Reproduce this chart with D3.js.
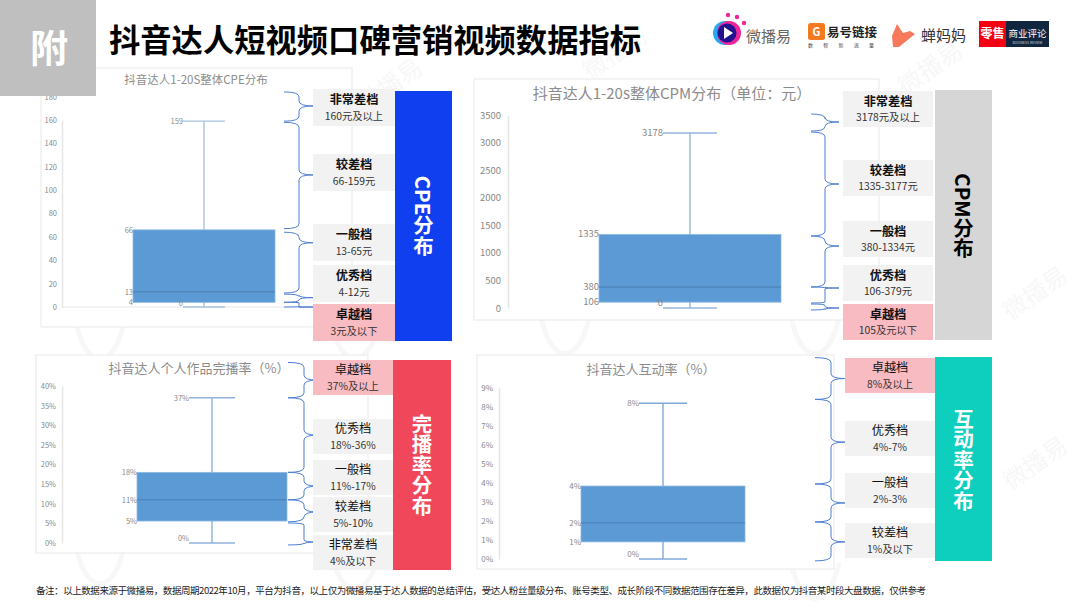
<!DOCTYPE html>
<html lang="zh-CN">
<head>
    <meta charset="UTF-8">
    <title>抖音达人短视频口碑营销视频数据指标</title>
    <script src="https://d3js.org/d3.v7.min.js"></script>
    <style>
        html, body { margin: 0; padding: 0; background: #fff; }
        svg { display: block; }
        text { font-family: "Noto Sans CJK SC", "Noto Sans", sans-serif; }
        .tick line { display: none; }
        .tick text { fill: #8a8a8a; }
    </style>
</head>
<body>
    <div id="container"></div>

    <script>
        // main title + footnote
        const mainTitle = '抖音达人短视频口碑营销视频数据指标';
        const footnote = '备注:以上数据来源于微播易,数据周期2022年10月,平台为抖音,以上仅为微播易基于达人数据的总结评估,受达人粉丝量级分布、账号类型、成长阶段不同数据范围存在差异,此数据仅为抖音某时段大盘数据,仅供参考';

        // box stats are [min, q1, median, q3, max]
        const cpeStats = [0, 4, 13, 66, 159];
        const cpeLabels = ['0', '4', '13', '66', '159'];
        const cpeTicks = [0, 20, 40, 60, 80, 100, 120, 140, 160, 180];
        const cpeTiers = ['非常差档', '较差档', '一般档', '优秀档', '卓越档'];
        const cpeRanges = ['160元及以上', '66-159元', '13-65元', '4-12元', '3元及以下'];
        const cpeBraces = [[184, 159, 172], [158, 67, 113], [64, 12, 55], [11, 4, 8], [4, 0, 0]];

        const cpmStats = [0, 106, 380, 1335, 3178];
        const cpmLabels = ['0', '106', '380', '1335', '3178'];
        const cpmTicks = [0, 500, 1000, 1500, 2000, 2500, 3000, 3500];
        const cpmTiers = ['非常差档', '较差档', '一般档', '优秀档', '卓越档'];
        const cpmRanges = ['3178元及以上', '1335-3177元', '380-1334元', '106-379元', '105及元以下'];
        const cpmBraces = [[3523, 3214, 3378], [3196, 1307, 2252], [1307, 381, 1126], [381, 91, 363], [73, -36, 0]];

        const finishStats = [0, 5.6, 11, 18, 37];
        const finishLabels = ['0%', '5%', '11%', '18%', '37%'];
        const finishTicks = [0, 5, 10, 15, 20, 25, 30, 35, 40];
        const finishTiers = ['卓越档', '优秀档', '一般档', '较差档', '非常差档'];
        const finishRanges = ['37%及以上', '18%-36%', '11%-17%', '5%-10%', '4%及以下'];
        const finishBraces = [[46, 37, 41.5], [37, 18, 27.5], [18, 11, 14.5], [11, 5.4, 7.9], [5.1, -0.5, 0.25]];

        const interactStats = [0, 0.9, 1.9, 3.84, 8.2];
        const interactLabels = ['0%', '1%', '2%', '4%', '8%'];
        const interactTicks = [0, 1, 2, 3, 4, 5, 6, 7, 8, 9];
        const interactTiers = ['卓越档', '优秀档', '一般档', '较差档'];
        const interactRanges = ['8%及以上', '4%-7%', '2%-3%', '1%及以下'];
        const interactBraces = [[10.6, 8.4, 9.5], [8.4, 3.95, 6.15], [3.95, 1.95, 2.95], [1.95, -0.1, 0.9]];

        const svg = d3.select('#container').append('svg')
            .attr('width', 1080)
            .attr('height', 608);

        // faint watermark behind everything
        const marks = [[395, 92], [620, 60], [935, 75], [1040, 300], [1040, 470]];
        svg.selectAll('.wm').data(marks).enter().append('text')
            .attr('transform', d => `translate(${d[0]},${d[1]}) rotate(-35)`)
            .attr('text-anchor', 'middle')
            .attr('font-size', 24)
            .attr('fill', '#f7f7f7')
            .text('微播易');
        const rings = [[100, 335], [355, 335], [565, 330], [815, 330], [100, 560], [355, 565], [815, 575]];
        svg.selectAll('.wm-ring').data(rings).enter().append('path')
            .attr('d', d => `M${d[0] - 24} ${d[1] - 12} Q${d[0] - 16} ${d[1] + 22} ${d[0]} ${d[1] + 24} Q${d[0] + 16} ${d[1] + 22} ${d[0] + 24} ${d[1] - 12}`)
            .attr('fill', 'none')
            .attr('stroke', '#f7f7f7')
            .attr('stroke-width', 5);

        function drawPanel(p) {
            const g = svg.append('g');

            //frame
            g.append('rect')
                .attr('x', p.frame[0]).attr('y', p.frame[1])
                .attr('width', p.frame[2] - p.frame[0]).attr('height', p.frame[3] - p.frame[1])
                .attr('fill', '#fff').attr('stroke', '#e9e9e9');

            g.append('text')
                .attr('x', p.titleX).attr('y', p.titleY)
                .attr('text-anchor', 'middle')
                .attr('font-size', p.titleSize)
                .attr('fill', '#8c8c8c')
                .text(p.title);

            //scales
            const y = d3.scaleLinear()
                .domain([0, p.domainMax])
                .range([p.y0, p.yMax]);
            const x = d3.scaleBand()
                .domain([p.category])
                .range(p.boxX);
            const mid = x(p.category) + x.bandwidth() / 2;
            const [lo, q1, med, q3, hi] = p.stats;

            //axis
            const axis = g.append('g')
                .attr('transform', `translate(${p.axisX},0)`)
                .call(d3.axisLeft(y).tickValues(p.ticks).tickSize(0).tickPadding(p.tickPad).tickFormat(p.tickFormat));
            axis.select('.domain').attr('stroke', '#e6e6e6').attr('stroke-width', 1.5);
            axis.selectAll('.tick text').attr('font-size', p.tickSize);

            if (p.baseline) {
                g.append('line')
                    .attr('x1', p.axisX).attr('x2', p.baseline)
                    .attr('y1', y(0)).attr('y2', y(0))
                    .attr('stroke', '#e6e6e6');
            }

            //whisker + caps
            g.append('line').attr('x1', mid).attr('x2', mid).attr('y1', y(hi)).attr('y2', y(lo))
                .attr('stroke', p.whisker).attr('stroke-width', 1.4);
            [hi, lo].forEach(v => {
                g.append('line')
                    .attr('x1', mid - p.capHalf).attr('x2', mid + p.capHalf)
                    .attr('y1', y(v)).attr('y2', y(v))
                    .attr('stroke', p.whisker).attr('stroke-width', 1.4);
            });

            //box
            g.append('rect')
                .attr('x', x(p.category)).attr('y', y(q3))
                .attr('width', x.bandwidth()).attr('height', y(q1) - y(q3))
                .attr('fill', '#5b9ad5').attr('stroke', '#8fb8e0').attr('stroke-width', 0.8);
            g.append('line')
                .attr('x1', x(p.category)).attr('x2', x(p.category) + x.bandwidth())
                .attr('y1', y(med)).attr('y2', y(med))
                .attr('stroke', '#4a7fb3').attr('stroke-width', 1);

            //value labels
            const labelX = [mid - p.capHalf, x(p.category), x(p.category), x(p.category), mid - p.capHalf];
            const labelDy = [p.zeroDy, 3, 3, 3, 3];
            p.stats.forEach((v, i) => {
                g.append('text')
                    .attr('x', labelX[i])
                    .attr('y', y(v) + labelDy[i])
                    .attr('text-anchor', 'end')
                    .attr('font-size', p.labelSize)
                    .attr('fill', '#8a8a8a')
                    .text(p.labels[i]);
            });

            //braces
            p.braces.forEach(b => {
                const y1 = y(b[0]), y2 = y(b[1]);
                const tip = Math.min(Math.max(y(b[2]), y1), y2);
                const r = Math.min(5, (tip - y1) / 2 + 0.5, (y2 - tip) / 2 + 0.5);
                const path = d3.path();
                path.moveTo(p.brace[0], y1);
                path.quadraticCurveTo(p.brace[1], y1, p.brace[1], y1 + r);
                path.lineTo(p.brace[1], tip - r);
                path.quadraticCurveTo(p.brace[1], tip, p.brace[2], tip);
                path.quadraticCurveTo(p.brace[1], tip, p.brace[1], tip + r);
                path.lineTo(p.brace[1], y2 - r);
                path.quadraticCurveTo(p.brace[1], y2, p.brace[0], y2);
                g.append('path')
                    .attr('d', path.toString())
                    .attr('fill', 'none')
                    .attr('stroke', '#4f7fd0')
                    .attr('stroke-width', 1);
            });

            //tier cards
            p.tiers.forEach((name, i) => {
                const top = p.cardY[i];
                const good = name === '卓越档';
                g.append('rect')
                    .attr('x', p.cardX[0]).attr('y', top)
                    .attr('width', p.cardX[1] - p.cardX[0]).attr('height', p.cardH)
                    .attr('fill', good ? '#f8bbc2' : '#f2f2f2');
                const cx = (p.cardX[0] + p.cardX[1]) / 2;
                g.append('text')
                    .attr('x', cx).attr('y', top + p.cardH / 2 - 3.4)
                    .attr('text-anchor', 'middle')
                    .attr('font-size', 12.2)
                    .attr('font-weight', p.boldTier ? 700 : 400)
                    .attr('fill', '#111')
                    .text(name);
                g.append('text')
                    .attr('x', cx).attr('y', top + p.cardH / 2 + 12.2)
                    .attr('text-anchor', 'middle')
                    .attr('font-size', 10.3)
                    .attr('fill', '#333')
                    .text(p.ranges[i]);
            });

            //side bar
            g.append('rect')
                .attr('x', p.side[0]).attr('y', p.side[1])
                .attr('width', p.side[2] - p.side[0]).attr('height', p.side[3] - p.side[1])
                .attr('fill', p.sideColor);
            g.append('text')
                .attr('x', (p.side[0] + p.side[2]) / 2)
                .attr('y', p.sideTextY)
                .attr('text-anchor', 'middle')
                .style('writing-mode', 'vertical-rl')
                .attr('font-size', 20.5)
                .attr('font-weight', 700)
                .attr('fill', p.sideText)
                .text(p.sideLabel);
        }

        const pctTick = d => d + '%';

        drawPanel({
            title: '抖音达人1-20S整体CPE分布', titleX: 196, titleY: 84, titleSize: 11.5,
            frame: [41, 68, 352, 327], category: 'CPE',
            stats: cpeStats, labels: cpeLabels, ticks: cpeTicks, tickFormat: d => d,
            domainMax: 160, y0: 307, yMax: 120, axisX: 62, tickPad: 5, tickSize: 7.5,
            boxX: [133, 275], capHalf: 21, labelSize: 7.5, zeroDy: -1, baseline: 308,
            whisker: '#a9c3df', braces: cpeBraces, brace: [284, 299, 313],
            tiers: cpeTiers, ranges: cpeRanges, cardX: [313, 395], cardH: 37,
            cardY: [89, 154, 224, 265, 304], boldTier: true,
            side: [395, 91, 452, 341], sideColor: '#0f3fef', sideText: '#fff',
            sideLabel: 'CPE分布', sideTextY: 216
        });

        drawPanel({
            title: '抖音达人1-20s整体CPM分布\uFF08单位\uFF1A元\uFF09', titleX: 672, titleY: 99, titleSize: 15,
            frame: [474, 79, 879, 320], category: 'CPM',
            stats: cpmStats, labels: cpmLabels, ticks: cpmTicks, tickFormat: d => d,
            domainMax: 3500, y0: 308, yMax: 115.3, axisX: 508, tickPad: 7, tickSize: 9.5,
            boxX: [599, 781], capHalf: 27, labelSize: 9.5, zeroDy: -2, baseline: 0,
            whisker: '#93b6dc', braces: cpmBraces, brace: [811, 825, 839],
            tiers: cpmTiers, ranges: cpmRanges, cardX: [843, 933], cardH: 36,
            cardY: [91, 160, 221, 265, 304], boldTier: true,
            side: [935, 90, 992, 340], sideColor: '#d6d6d6', sideText: '#000',
            sideLabel: 'CPM分布', sideTextY: 216
        });

        drawPanel({
            title: '抖音达人个人作品完播率\uFF08%\uFF09', titleX: 199, titleY: 373, titleSize: 13,
            frame: [36, 355, 368, 553], category: 'finish',
            stats: finishStats, labels: finishLabels, ticks: finishTicks, tickFormat: pctTick,
            domainMax: 40, y0: 543, yMax: 386, axisX: 62, tickPad: 6, tickSize: 7.5,
            boxX: [137, 287], capHalf: 23, labelSize: 7.5, zeroDy: -2, baseline: 0,
            whisker: '#8fb3dc', braces: finishBraces, brace: [288, 304, 318],
            tiers: finishTiers, ranges: finishRanges, cardX: [313, 393], cardH: 35,
            cardY: [360, 419, 460, 497, 535], boldTier: false,
            side: [393, 360, 451, 570], sideColor: '#f0485a', sideText: '#fff',
            sideLabel: '完播率分布', sideTextY: 465
        });

        drawPanel({
            title: '抖音达人互动率\uFF08%\uFF09', titleX: 651, titleY: 374, titleSize: 13,
            frame: [477, 355, 834, 569], category: 'interact',
            stats: interactStats, labels: interactLabels, ticks: interactTicks, tickFormat: pctTick,
            domainMax: 9, y0: 559, yMax: 388, axisX: 499, tickPad: 6, tickSize: 8,
            boxX: [581, 745], capHalf: 24, labelSize: 8, zeroDy: -2, baseline: 0,
            whisker: '#7fa8d8', braces: interactBraces, brace: [815, 831, 845],
            tiers: interactTiers, ranges: interactRanges, cardX: [845, 935], cardH: 35,
            cardY: [358, 421, 473, 523], boldTier: false,
            side: [935, 357, 992, 561], sideColor: '#0ecfbd', sideText: '#fff',
            sideLabel: '互动率分布', sideTextY: 460
        });

        //header
        svg.append('rect').attr('x', 0).attr('y', 0).attr('width', 96).attr('height', 96).attr('fill', '#bfbfbf');
        svg.append('text').attr('x', 49).attr('y', 62).attr('text-anchor', 'middle')
            .attr('font-size', 38).attr('font-weight', 700).attr('fill', '#fff').text('附');
        svg.append('text').attr('x', 109).attr('y', 52)
            .attr('font-size', 31.3).attr('font-weight', 700).attr('fill', '#000').text(mainTitle);

        //footnote, swap in full-width punctuation
        svg.append('text').attr('x', 36).attr('y', 594)
            .attr('font-size', 9.5).attr('fill', '#222')
            .attr('textLength', 890).attr('lengthAdjust', 'spacing')
            .text(footnote.replace(/:/g, '\uFF1A').replace(/,/g, '\uFF0C'));

        //logos
        const logos = svg.append('g');
        logos.append('circle').attr('cx', 725).attr('cy', 33).attr('r', 12).attr('fill', '#27a9f0');
        logos.append('circle').attr('cx', 729).attr('cy', 33).attr('r', 12).attr('fill', '#f0259a');
        logos.append('circle').attr('cx', 727).attr('cy', 33).attr('r', 9.5).attr('fill', '#23128f');
        logos.append('path').attr('d', 'M724 27 L733 33 L724 39 Z').attr('fill', '#fff');
        [[728, 15], [737, 17], [744, 23]].forEach(c => {
            logos.append('circle').attr('cx', c[0]).attr('cy', c[1]).attr('r', 2.2).attr('fill', '#f0259a');
        });
        logos.append('text').attr('x', 746).attr('y', 42).attr('font-size', 15).attr('fill', '#666').text('微播易');

        logos.append('rect').attr('x', 808).attr('y', 23).attr('width', 17).attr('height', 17).attr('rx', 2.5).attr('fill', '#f47a1f');
        logos.append('text').attr('x', 816.5).attr('y', 36).attr('text-anchor', 'middle')
            .attr('font-size', 11).attr('font-weight', 700).attr('fill', '#fff').text('G');
        logos.append('text').attr('x', 827).attr('y', 37).attr('font-size', 12.5).attr('font-weight', 700).attr('fill', '#222').text('易号链接');
        logos.append('text').attr('x', 808).attr('y', 47).attr('font-size', 5).attr('fill', '#444')
            .attr('textLength', 66).text('数 智 新 流 量');

        logos.append('path').attr('d', 'M897 24 L903 33 L910 31 L915 34 L899 47 L893 47 L892 36 Z').attr('fill', '#f5795a');
        logos.append('text').attr('x', 921).attr('y', 41).attr('font-size', 15).attr('fill', '#333').text('蝉妈妈');

        logos.append('rect').attr('x', 979).attr('y', 21).attr('width', 27).attr('height', 26).attr('fill', '#f40012');
        logos.append('rect').attr('x', 1006).attr('y', 21).attr('width', 43).attr('height', 26).attr('fill', '#10263f');
        logos.append('text').attr('x', 992.5).attr('y', 38).attr('text-anchor', 'middle')
            .attr('font-size', 12).attr('font-weight', 700).attr('fill', '#fff').text('零售');
        logos.append('text').attr('x', 1027.5).attr('y', 37).attr('text-anchor', 'middle')
            .attr('font-size', 9.5).attr('fill', '#fff').text('商业评论');
        logos.append('text').attr('x', 1027.5).attr('y', 44).attr('text-anchor', 'middle')
            .attr('font-size', 3.5).attr('fill', '#cdd5de').text('BUSINESS REVIEW');
    </script>
</body>
</html>
